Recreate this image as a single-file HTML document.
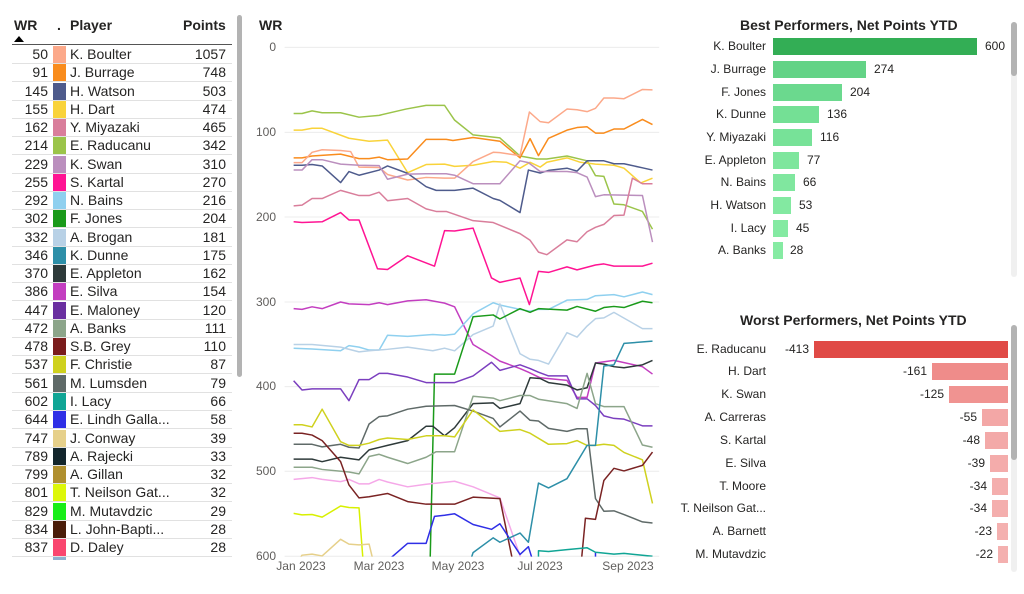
<!DOCTYPE html>
<html><head><meta charset="utf-8"><style>
body{margin:0;width:1024px;height:592px;background:#fff;position:relative;overflow:hidden;font-family:"Liberation Sans",sans-serif;color:#252423}
.a{position:absolute;white-space:nowrap}
.row{position:absolute;left:12px;width:220px;height:18px;border-bottom:1px solid #e1e1e1;font-size:14px;line-height:18px}
.row .w{position:absolute;right:184px;text-align:right}
.row .s{position:absolute;left:41px;top:1px;width:13px;height:17px}
.row .n{position:absolute;left:58px}
.row .p{position:absolute;right:6px;text-align:right}
.yl{position:absolute;right:748px;font-size:12px;color:#605e5c;transform:translateY(-50%)}
.xl{position:absolute;top:559px;font-size:12px;color:#605e5c;transform:translateX(-50%)}
.bl{position:absolute;right:258px;font-size:12px;transform:translateY(-50%);color:#252423}
.bv{position:absolute;font-size:12px;transform:translateY(-50%)}
.bar{position:absolute;height:17px}
</style></head><body>

<!-- table -->
<div class="a" style="left:14px;top:17px;font-size:14px;font-weight:bold">WR</div>
<div class="a" style="left:14px;top:36px;width:0;height:0;border-left:5px solid transparent;border-right:5px solid transparent;border-bottom:6px solid #000"></div>
<div class="a" style="left:57px;top:17px;font-size:14px;font-weight:bold">.</div>
<div class="a" style="left:70px;top:17px;font-size:14px;font-weight:bold">Player</div>
<div class="a" style="left:183px;top:17px;font-size:14px;font-weight:bold">Points</div>
<div class="a" style="left:12px;top:44px;width:220px;height:1px;background:#555"></div>
<div class="a" style="left:237px;top:15px;width:5px;height:362px;background:#b3b3b3;border-radius:3px"></div>

<div class="row" style="top:45px"><span class="w">50</span><span class="s" style="background:#fca98a"></span><span class="n">K. Boulter</span><span class="p">1057</span></div>
<div class="row" style="top:63.3px"><span class="w">91</span><span class="s" style="background:#f98c1d"></span><span class="n">J. Burrage</span><span class="p">748</span></div>
<div class="row" style="top:81.5px"><span class="w">145</span><span class="s" style="background:#4e5b8c"></span><span class="n">H. Watson</span><span class="p">503</span></div>
<div class="row" style="top:99.8px"><span class="w">155</span><span class="s" style="background:#f9d33a"></span><span class="n">H. Dart</span><span class="p">474</span></div>
<div class="row" style="top:118px"><span class="w">162</span><span class="s" style="background:#d97e9b"></span><span class="n">Y. Miyazaki</span><span class="p">465</span></div>
<div class="row" style="top:136.3px"><span class="w">214</span><span class="s" style="background:#9bc44a"></span><span class="n">E. Raducanu</span><span class="p">342</span></div>
<div class="row" style="top:154.6px"><span class="w">229</span><span class="s" style="background:#bb8fbe"></span><span class="n">K. Swan</span><span class="p">310</span></div>
<div class="row" style="top:172.8px"><span class="w">255</span><span class="s" style="background:#ff1493"></span><span class="n">S. Kartal</span><span class="p">270</span></div>
<div class="row" style="top:191.1px"><span class="w">292</span><span class="s" style="background:#8fd0ef"></span><span class="n">N. Bains</span><span class="p">216</span></div>
<div class="row" style="top:209.3px"><span class="w">302</span><span class="s" style="background:#1a9a1a"></span><span class="n">F. Jones</span><span class="p">204</span></div>
<div class="row" style="top:227.6px"><span class="w">332</span><span class="s" style="background:#b8d1e6"></span><span class="n">A. Brogan</span><span class="p">181</span></div>
<div class="row" style="top:245.9px"><span class="w">346</span><span class="s" style="background:#2d8fa8"></span><span class="n">K. Dunne</span><span class="p">175</span></div>
<div class="row" style="top:264.1px"><span class="w">370</span><span class="s" style="background:#2e3a3a"></span><span class="n">E. Appleton</span><span class="p">162</span></div>
<div class="row" style="top:282.4px"><span class="w">386</span><span class="s" style="background:#c33ec0"></span><span class="n">E. Silva</span><span class="p">154</span></div>
<div class="row" style="top:300.6px"><span class="w">447</span><span class="s" style="background:#6a2fa0"></span><span class="n">E. Maloney</span><span class="p">120</span></div>
<div class="row" style="top:318.9px"><span class="w">472</span><span class="s" style="background:#8ca58a"></span><span class="n">A. Banks</span><span class="p">111</span></div>
<div class="row" style="top:337.2px"><span class="w">478</span><span class="s" style="background:#7a1c1c"></span><span class="n">S.B. Grey</span><span class="p">110</span></div>
<div class="row" style="top:355.4px"><span class="w">537</span><span class="s" style="background:#cfd11e"></span><span class="n">F. Christie</span><span class="p">87</span></div>
<div class="row" style="top:373.7px"><span class="w">561</span><span class="s" style="background:#5f6a68"></span><span class="n">M. Lumsden</span><span class="p">79</span></div>
<div class="row" style="top:391.9px"><span class="w">602</span><span class="s" style="background:#10a595"></span><span class="n">I. Lacy</span><span class="p">66</span></div>
<div class="row" style="top:410.2px"><span class="w">644</span><span class="s" style="background:#2f2fe6"></span><span class="n">E. Lindh Galla...</span><span class="p">58</span></div>
<div class="row" style="top:428.5px"><span class="w">747</span><span class="s" style="background:#e6d08a"></span><span class="n">J. Conway</span><span class="p">39</span></div>
<div class="row" style="top:446.7px"><span class="w">789</span><span class="s" style="background:#13262c"></span><span class="n">A. Rajecki</span><span class="p">33</span></div>
<div class="row" style="top:465px"><span class="w">799</span><span class="s" style="background:#b0902f"></span><span class="n">A. Gillan</span><span class="p">32</span></div>
<div class="row" style="top:483.2px"><span class="w">801</span><span class="s" style="background:#ddf70a"></span><span class="n">T. Neilson Gat...</span><span class="p">32</span></div>
<div class="row" style="top:501.5px"><span class="w">829</span><span class="s" style="background:#18ee18"></span><span class="n">M. Mutavdzic</span><span class="p">29</span></div>
<div class="row" style="top:519.8px"><span class="w">834</span><span class="s" style="background:#4a1c08"></span><span class="n">L. John-Bapti...</span><span class="p">28</span></div>
<div class="row" style="top:538px"><span class="w">837</span><span class="s" style="background:#f9466f"></span><span class="n">D. Daley</span><span class="p">28</span></div>
<div class="a" style="left:53px;top:557px;width:13px;height:3px;background:#8fb0d0"></div>

<!-- line chart -->
<div class="a" style="left:259px;top:17px;font-size:14px;font-weight:bold">WR</div>
<div class="yl" style="top:47px">0</div>
<div class="yl" style="top:132px">100</div>
<div class="yl" style="top:217px">200</div>
<div class="yl" style="top:302px">300</div>
<div class="yl" style="top:386px">400</div>
<div class="yl" style="top:471px">500</div>
<div class="yl" style="top:556px">600</div>
<div class="xl" style="left:301px">Jan 2023</div>
<div class="xl" style="left:379px">Mar 2023</div>
<div class="xl" style="left:458px">May 2023</div>
<div class="xl" style="left:540px">Jul 2023</div>
<div class="xl" style="left:628px">Sep 2023</div>

<svg class="a" style="left:244.6px;top:9.66px" width="422.6" height="584" viewBox="0 0 1260 1580" preserveAspectRatio="none">
<defs><clipPath id="c"><rect x="100" y="0" width="1160" height="1479"/></clipPath></defs>
<g stroke="#ececec" stroke-width="1">
<line x1="118" x2="1235" y1="101" y2="101" vector-effect="non-scaling-stroke"/><line x1="118" x2="1235" y1="331" y2="331" vector-effect="non-scaling-stroke"/><line x1="118" x2="1235" y1="560" y2="560" vector-effect="non-scaling-stroke"/><line x1="118" x2="1235" y1="790" y2="790" vector-effect="non-scaling-stroke"/><line x1="118" x2="1235" y1="1019" y2="1019" vector-effect="non-scaling-stroke"/><line x1="118" x2="1235" y1="1248" y2="1248" vector-effect="non-scaling-stroke"/><line x1="118" x2="1235" y1="1478" y2="1478" vector-effect="non-scaling-stroke"/>
</g>
<g clip-path="url(#c)" fill="none" stroke-width="1.5" stroke-linejoin="round">
<polyline vector-effect="non-scaling-stroke" stroke="#9bc44a" points="145,280 170,280 200,273 230,278 285,278 340,290 400,285 480,268 540,258 595,258 625,298 680,338 760,346 820,395 870,403 900,403 960,395 1020,408 1045,448 1070,450 1100,525 1130,527 1185,545 1215,593"/>
<polyline vector-effect="non-scaling-stroke" stroke="#f9d33a" points="145,325 170,325 200,320 230,320 310,347 370,355 425,352 485,440 540,418 595,417 625,423 680,420 740,410 780,412 820,428 850,412 880,425 900,412 960,400 1000,412 1045,417 1100,420 1130,428 1180,468 1215,455"/>
<polyline vector-effect="non-scaling-stroke" stroke="#f98c1d" points="145,400 170,400 200,395 285,390 340,402 370,402 400,398 425,405 485,403 540,350 600,350 620,353 680,345 760,355 820,400 850,348 875,394 905,347 960,325 990,318 1020,316 1045,333 1070,333 1100,322 1130,322 1185,296 1215,310"/>
<polyline vector-effect="non-scaling-stroke" stroke="#fca98a" points="145,413 170,413 200,385 230,378 285,380 315,383 340,425 400,426 425,445 485,460 540,453 595,455 625,455 680,410 740,385 760,386 820,394 848,276 880,302 905,305 960,268 990,270 1020,275 1045,266 1070,238 1100,238 1130,240 1185,215 1215,216"/>
<polyline vector-effect="non-scaling-stroke" stroke="#4e5b8c" points="145,420 170,420 200,418 230,422 285,467 310,437 340,447 400,433 425,422 485,442 540,478 570,488 625,488 680,482 740,510 760,515 820,548 845,433 880,441 905,434 960,428 990,436 1020,408 1070,408 1100,416 1130,416 1185,427 1215,433"/>
<polyline vector-effect="non-scaling-stroke" stroke="#bb8fbe" points="145,433 170,433 200,405 230,405 285,417 340,420 400,421 425,458 485,444 540,443 600,443 625,447 680,470 760,470 820,408 845,413 880,437 960,437 990,440 1020,452 1045,505 1070,500 1185,502 1215,628"/>
<polyline vector-effect="non-scaling-stroke" stroke="#d97e9b" points="145,530 170,528 200,510 230,510 285,488 340,502 370,502 400,493 425,516 485,510 540,538 570,545 600,545 680,570 740,575 820,605 850,623 875,655 900,662 960,622 990,627 1020,600 1045,588 1070,580 1100,556 1130,555 1155,455 1185,470 1215,470"/>
<polyline vector-effect="non-scaling-stroke" stroke="#ff1493" points="145,573 170,575 230,573 285,548 310,568 340,568 395,700 425,702 485,665 565,693 595,597 625,598 680,590 735,725 760,737 820,725 848,797 875,707 905,710 960,695 990,703 1045,690 1070,687 1100,693 1185,693 1215,685"/>
<polyline vector-effect="non-scaling-stroke" stroke="#c33ec0" points="145,808 170,810 200,803 230,808 285,790 310,795 370,797 400,792 425,797 485,787 540,784 595,793 625,803 680,905 735,935 760,950 820,970 845,980 880,995 960,1002 990,1048 1020,1048 1045,955 1100,948 1185,965 1215,985"/>
<polyline vector-effect="non-scaling-stroke" stroke="#8fd0ef" points="145,915 200,917 285,922 310,908 340,912 370,920 400,920 425,880 485,883 560,878 595,880 625,877 680,822 740,792 760,798 820,810 850,815 875,810 905,810 960,785 1020,783 1045,773 1100,770 1130,776 1185,763 1215,770"/>
<polyline vector-effect="non-scaling-stroke" stroke="#b8d1e6" points="145,905 200,905 285,912 340,925 370,922 425,918 485,912 560,922 595,915 625,922 680,878 740,855 760,795 820,930 850,945 875,948 905,958 960,873 990,885 1020,855 1045,835 1070,833 1100,818 1185,862 1215,862"/>
<polyline vector-effect="non-scaling-stroke" stroke="#1a9a1a" points="552,1490 565,985 625,985 680,830 740,825 760,836 820,808 850,818 875,808 960,812 990,802 1045,815 1070,805 1100,802 1130,805 1185,788 1215,792"/>
<polyline vector-effect="non-scaling-stroke" stroke="#7b3fbf" points="145,1003 170,1028 200,1025 285,1025 310,1057 340,1000 370,1000 400,983 425,983 485,993 540,1008 570,1008 625,1008 680,990 735,953 760,975 820,960 850,970 875,980 905,990 960,990 990,1052 1020,1052 1045,1070 1070,1098 1100,1105 1130,1107 1185,1125 1215,1125"/>
<polyline vector-effect="non-scaling-stroke" stroke="#2e3a3a" points="145,1215 200,1215 230,1222 285,1210 340,1217 370,1190 425,1178 485,1165 540,1126 560,1126 595,1152 625,1130 680,1065 740,1063 760,1078 820,1065 850,995 880,997 905,1008 960,1015 990,1028 1020,1022 1045,955 1070,958 1100,965 1130,968 1185,960 1215,948"/>
<polyline vector-effect="non-scaling-stroke" stroke="#8ca58a" points="145,1237 200,1237 230,1243 310,1250 340,1255 370,1208 400,1202 425,1210 485,1227 540,1210 570,1195 625,1195 680,1045 740,1050 760,1057 820,1043 850,1043 875,1053 960,1065 990,1078 1020,983 1045,1065 1070,1073 1130,1073 1185,1177 1215,1183"/>
<polyline vector-effect="non-scaling-stroke" stroke="#5f6a68" points="145,1175 200,1175 230,1182 285,1175 310,1183 340,1185 370,1120 400,1100 425,1098 485,1080 540,1072 625,1070 680,1085 740,1105 760,1128 820,1085 850,1110 875,1112 905,1132 960,1140 990,1133 1020,1133 1045,1322 1070,1356 1100,1355 1130,1365 1185,1385 1215,1388"/>
<polyline vector-effect="non-scaling-stroke" stroke="#cfd11e" points="145,1122 170,1122 200,1128 230,1080 285,1168 310,1178 340,1178 370,1172 400,1162 425,1158 485,1162 540,1152 595,1152 625,1155 680,1082 760,1140 820,1135 850,1145 905,1175 960,1173 990,1165 1020,1178 1045,1178 1070,1175 1100,1178 1130,1197 1185,1217 1215,1335"/>
<polyline vector-effect="non-scaling-stroke" stroke="#f5a8e8" points="145,1270 200,1265 230,1270 285,1276 310,1270 340,1282 370,1282 400,1270 425,1277 485,1290 540,1283 625,1275 680,1290 760,1320 825,1490"/>
<polyline vector-effect="non-scaling-stroke" stroke="#7a2323" points="145,1145 170,1145 200,1150 230,1165 285,1222 310,1285 340,1320 370,1317 425,1308 485,1330 540,1337 625,1337 680,1318 760,1322 798,1490"/>
<polyline vector-effect="non-scaling-stroke" stroke="#7a2323" points="1003,1490 1015,1375 1045,1378 1070,1273 1100,1240 1130,1247 1185,1232 1215,1196"/>
<polyline vector-effect="non-scaling-stroke" stroke="#d8f000" points="145,1362 170,1366 200,1365 230,1372 285,1342 310,1346 340,1347 352,1490"/>
<polyline vector-effect="non-scaling-stroke" stroke="#2f2fe6" points="425,1490 485,1443 540,1443 565,1370 595,1367 625,1363 680,1392 735,1405 760,1390 820,1473 845,1452 858,1490"/>
<polyline vector-effect="non-scaling-stroke" stroke="#2f2fe6" points="1045,1468 1045,1490"/>
<polyline vector-effect="non-scaling-stroke" stroke="#2d8fa8" points="672,1490 680,1468 740,1428 760,1440 820,1415 845,1440 875,1280 905,1293 960,1268 1020,1178 1045,1178 1070,963 1100,960 1130,902 1215,896"/>
<polyline vector-effect="non-scaling-stroke" stroke="#10a595" points="875,1490 875,1463 905,1465 960,1460 1020,1455 1045,1467 1100,1472 1130,1470 1215,1478"/>
<polyline vector-effect="non-scaling-stroke" stroke="#e6d08a" points="160,1490 170,1475 200,1472 230,1477 285,1432 310,1445 340,1447 370,1445 382,1490"/>
</g>
</svg>

<!-- best performers -->
<div class="a" style="left:740px;top:17px;font-size:14px;font-weight:bold">Best Performers, Net Points YTD</div>
<div class="a" style="left:1011px;top:22px;width:6px;height:255px;background:#f0f0f0;border-radius:3px"></div>
<div class="a" style="left:1011px;top:22px;width:6px;height:54px;background:#b3b3b3;border-radius:3px"></div>
<div class="bl" style="top:46px">K. Boulter</div><div class="bar" style="left:773px;top:38px;width:204px;background:#33ae55"></div><div class="bv" style="left:985px;top:46px">600</div>
<div class="bl" style="top:69px">J. Burrage</div><div class="bar" style="left:773px;top:61px;width:93px;background:#63d386"></div><div class="bv" style="left:874px;top:69px">274</div>
<div class="bl" style="top:92px">F. Jones</div><div class="bar" style="left:773px;top:84px;width:69px;background:#6bd98e"></div><div class="bv" style="left:850px;top:92px">204</div>
<div class="bl" style="top:114px">K. Dunne</div><div class="bar" style="left:773px;top:106px;width:46px;background:#74e095"></div><div class="bv" style="left:827px;top:114px">136</div>
<div class="bl" style="top:137px">Y. Miyazaki</div><div class="bar" style="left:773px;top:129px;width:39px;background:#77e298"></div><div class="bv" style="left:820px;top:137px">116</div>
<div class="bl" style="top:160px">E. Appleton</div><div class="bar" style="left:773px;top:152px;width:26px;background:#7ee69d"></div><div class="bv" style="left:807px;top:160px">77</div>
<div class="bl" style="top:182px">N. Bains</div><div class="bar" style="left:773px;top:174px;width:22px;background:#80e79f"></div><div class="bv" style="left:803px;top:182px">66</div>
<div class="bl" style="top:205px">H. Watson</div><div class="bar" style="left:773px;top:197px;width:18px;background:#83e9a1"></div><div class="bv" style="left:799px;top:205px">53</div>
<div class="bl" style="top:228px">I. Lacy</div><div class="bar" style="left:773px;top:220px;width:15px;background:#84eaa2"></div><div class="bv" style="left:796px;top:228px">45</div>
<div class="bl" style="top:250px">A. Banks</div><div class="bar" style="left:773px;top:242px;width:10px;background:#86eba3"></div><div class="bv" style="left:790px;top:250px">28</div>

<!-- worst performers -->
<div class="a" style="left:740px;top:312px;font-size:14px;font-weight:bold">Worst Performers, Net Points YTD</div>
<div class="a" style="left:1011px;top:325px;width:6px;height:247px;background:#f0f0f0;border-radius:3px"></div>
<div class="a" style="left:1011px;top:325px;width:6px;height:135px;background:#b3b3b3;border-radius:3px"></div>
<div class="bl" style="top:349px">E. Raducanu</div><div class="bar" style="left:814px;top:341px;width:194px;background:#e04a46"></div><div class="bv" style="right:215px;top:349px">-413</div>
<div class="bl" style="top:371px">H. Dart</div><div class="bar" style="left:932px;top:363px;width:76px;background:#ef8c8a"></div><div class="bv" style="right:97px;top:371px">-161</div>
<div class="bl" style="top:394px">K. Swan</div><div class="bar" style="left:949px;top:386px;width:59px;background:#f09391"></div><div class="bv" style="right:80px;top:394px">-125</div>
<div class="bl" style="top:417px">A. Carreras</div><div class="bar" style="left:982px;top:409px;width:26px;background:#f3a7a6"></div><div class="bv" style="right:47px;top:417px">-55</div>
<div class="bl" style="top:440px">S. Kartal</div><div class="bar" style="left:985px;top:432px;width:23px;background:#f3a9a8"></div><div class="bv" style="right:44px;top:440px">-48</div>
<div class="bl" style="top:463px">E. Silva</div><div class="bar" style="left:990px;top:455px;width:18px;background:#f4acab"></div><div class="bv" style="right:39px;top:463px">-39</div>
<div class="bl" style="top:486px">T. Moore</div><div class="bar" style="left:992px;top:478px;width:16px;background:#f4aead"></div><div class="bv" style="right:37px;top:486px">-34</div>
<div class="bl" style="top:508px">T. Neilson Gat...</div><div class="bar" style="left:992px;top:500px;width:16px;background:#f4aead"></div><div class="bv" style="right:37px;top:508px">-34</div>
<div class="bl" style="top:531px">A. Barnett</div><div class="bar" style="left:997px;top:523px;width:11px;background:#f4b0af"></div><div class="bv" style="right:32px;top:531px">-23</div>
<div class="bl" style="top:554px">M. Mutavdzic</div><div class="bar" style="left:998px;top:546px;width:10px;background:#f4b0af"></div><div class="bv" style="right:31px;top:554px">-22</div>
</body></html>
